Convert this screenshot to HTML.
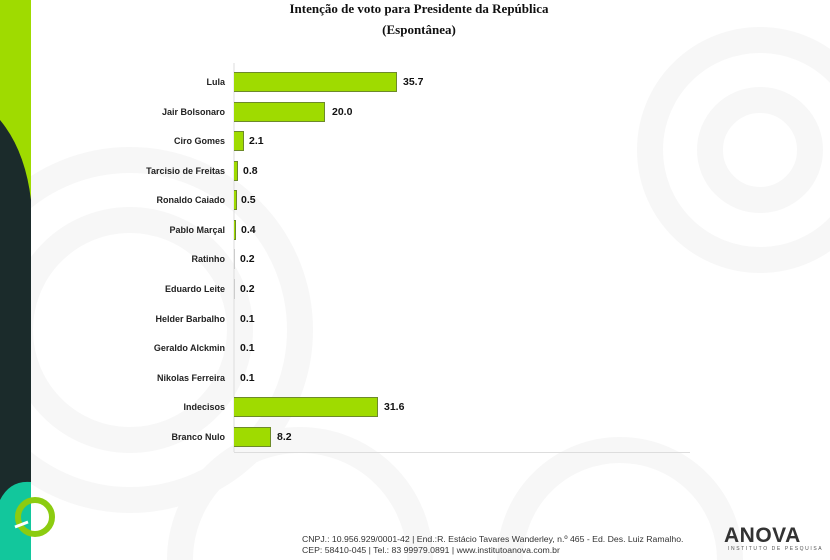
<!DOCTYPE html>
<html><head><meta charset="utf-8"><style>
html,body{margin:0;width:830px;height:560px;overflow:hidden}
body{background:#fff;position:relative;font-family:"Liberation Sans",sans-serif}
.lbl{position:absolute;right:605px;font-size:9px;font-weight:bold;color:#222;text-align:right;white-space:nowrap}
.bar{position:absolute;left:234px;height:20px;background:#9fdb00;border:1px solid #6d8a2a;border-left:none;box-sizing:border-box}
.val{position:absolute;font-size:10.5px;font-weight:bold;color:#111}
</style></head><body>
<svg width="830" height="560" style="position:absolute;left:0;top:0">
<g fill="none" stroke="#f7f7f7" stroke-width="26">
<circle cx="130" cy="330" r="170"/>
<circle cx="130" cy="330" r="110"/>
<circle cx="300" cy="560" r="120"/>
<circle cx="760" cy="150" r="110"/>
<circle cx="760" cy="150" r="50"/>
<circle cx="620" cy="560" r="110"/>
</g>
<defs><clipPath id="c"><rect x="0" y="0" width="31" height="560"/></clipPath></defs>
<g clip-path="url(#c)">
<rect x="0" y="0" width="31" height="560" fill="#9fdb00"/>
<path d="M0,120 Q25,150 31,200 L31,560 L0,560Z" fill="#1b2b2b"/>
<path d="M0,560 L0,500 Q10,480 31,482 L31,560Z" fill="#12c79c"/>
</g>
<circle cx="35" cy="517" r="17" fill="none" stroke="#8ccc10" stroke-width="6"/>
<path d="M15,527 L28,522" stroke="#fff" stroke-width="3"/>
<line x1="234" y1="63" x2="234" y2="452" stroke="#ddd" stroke-width="1"/>
<line x1="234" y1="452.5" x2="690" y2="452.5" stroke="#ddd" stroke-width="1"/>
</svg>
<div style="position:absolute;top:-2px;left:0;width:830px;text-align:center;font-family:'Liberation Serif',serif;font-weight:bold;font-size:13px;line-height:21px;color:#111;padding-left:8px;box-sizing:border-box">Intenção de voto para Presidente da República<br>(Espontânea)</div>

<div class="lbl" style="top:77px">Lula</div><div class="bar" style="top:72px;width:163px"></div><div class="val" style="left:403px;top:76px">35.7</div>
<div class="lbl" style="top:107px">Jair Bolsonaro</div><div class="bar" style="top:102px;width:91px"></div><div class="val" style="left:332px;top:106px">20.0</div>
<div class="lbl" style="top:136px">Ciro Gomes</div><div class="bar" style="top:131px;width:10px"></div><div class="val" style="left:249px;top:135px">2.1</div>
<div class="lbl" style="top:166px">Tarcisio de Freitas</div><div class="bar" style="top:161px;width:4px"></div><div class="val" style="left:243px;top:165px">0.8</div>
<div class="lbl" style="top:195px">Ronaldo Caiado</div><div class="bar" style="top:190px;width:3px"></div><div class="val" style="left:241px;top:194px">0.5</div>
<div class="lbl" style="top:225px">Pablo Marçal</div><div class="bar" style="top:220px;width:2px"></div><div class="val" style="left:241px;top:224px">0.4</div>
<div class="lbl" style="top:254px">Ratinho</div><div class="bar" style="top:249px;width:1px;background:#ccc;border:none"></div><div class="val" style="left:240px;top:253px">0.2</div>
<div class="lbl" style="top:284px">Eduardo Leite</div><div class="bar" style="top:279px;width:1px;background:#ccc;border:none"></div><div class="val" style="left:240px;top:283px">0.2</div>
<div class="lbl" style="top:314px">Helder Barbalho</div><div class="val" style="left:240px;top:313px">0.1</div>
<div class="lbl" style="top:343px">Geraldo Alckmin</div><div class="val" style="left:240px;top:342px">0.1</div>
<div class="lbl" style="top:373px">Nikolas Ferreira</div><div class="val" style="left:240px;top:372px">0.1</div>
<div class="lbl" style="top:402px">Indecisos</div><div class="bar" style="top:397px;width:144px"></div><div class="val" style="left:384px;top:401px">31.6</div>
<div class="lbl" style="top:432px">Branco Nulo</div><div class="bar" style="top:427px;width:37px"></div><div class="val" style="left:277px;top:431px">8.2</div>

<div style="position:absolute;left:302px;top:534px;font-size:8.7px;line-height:10.5px;color:#333;white-space:nowrap">CNPJ.: 10.956.929/0001-42 | End.:R. Estácio Tavares Wanderley, n.º 465 - Ed. Des. Luiz Ramalho.<br>CEP: 58410-045 | Tel.: 83 99979.0891 | www.institutoanova.com.br</div>
<div style="position:absolute;left:724px;top:524px;font-size:21px;line-height:24px;font-weight:bold;color:#333;letter-spacing:0.5px">ANOVA</div>
<div style="position:absolute;left:728px;top:546px;font-size:5px;line-height:6px;color:#555;letter-spacing:1.6px;white-space:nowrap">INSTITUTO DE PESQUISA</div>
</body></html>
